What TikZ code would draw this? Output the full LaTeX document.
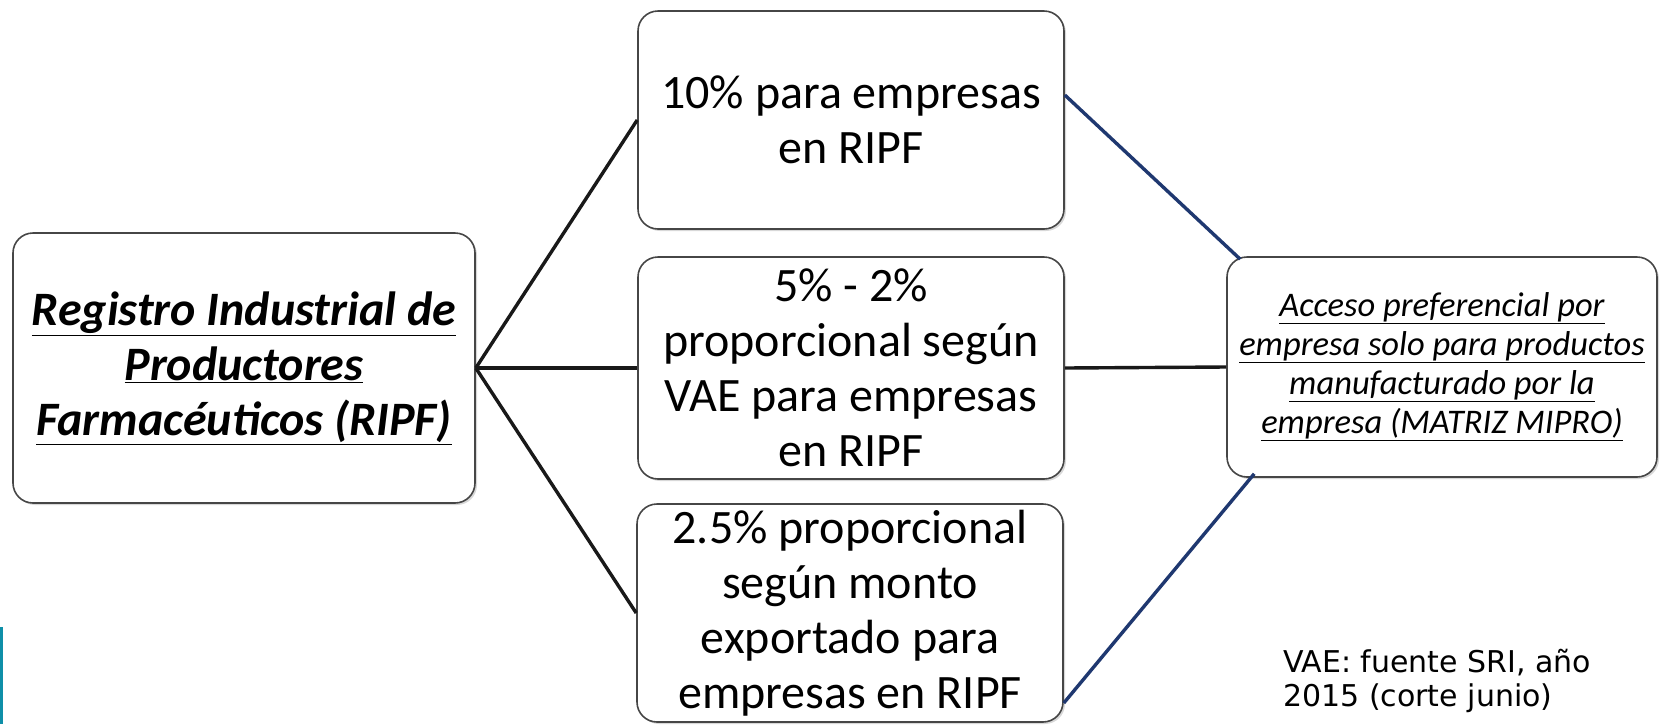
\documentclass[tikz,border=0pt]{standalone}
\usepackage{fontspec}
\setmainfont{Carlito}
\newfontfamily\notefont{DejaVu Sans}
\usetikzlibrary{shadows}
\definecolor{boxgray}{RGB}{70,70,70}
\definecolor{linkblack}{RGB}{25,25,25}
\definecolor{linkblue}{RGB}{31,56,112}
\definecolor{stripteal}{RGB}{14,143,168}

\begin{document}
\begin{tikzpicture}[x=1pt,y=1pt,yscale=-1,
  box/.style={draw=boxgray, line width=1.6pt, rounded corners=20pt, fill=white, align=center, inner sep=0pt,
    drop shadow={shadow xshift=2pt, shadow yshift=-2pt, opacity=0.3}},
  ratebox/.style={box, minimum width=426pt, minimum height=218pt, font=\fontsize{48}{55}\selectfont},
  link/.style={line width=3.4pt, draw=linkblack},
  bluelink/.style={line width=3.4pt, draw=linkblue}]
%uncomment if require: \path (0,724); %set diagram left start at 0, and has height of 724
\useasboundingbox[fill=white] (0,0) rectangle (1660,724);

%Shape: Rectangle (left strip)
\fill [stripteal] (0,627) rectangle (3,724);

% Text Node
\node [box, minimum width=462pt, minimum height=270pt, font=\bfseries\itshape\fontsize{48}{55}\selectfont] (ripf) at (244,368)
  {\underline{Registro Industrial de}\\\underline{Productores}\\\underline{Farmacéuticos (RIPF)}};
% Text Node
\node [ratebox] (diez) at (851,120) {10\% para empresas\\en RIPF};
% Text Node
\node [ratebox, minimum height=222pt] (cinco) at (851,368) {5\% - 2\%\\proporcional según\\VAE para empresas\\en RIPF};
% Text Node
\node [ratebox] (dos) at (850,613) {2.5\% proporcional\\según monto\\exportado para\\empresas en RIPF};
% Text Node
\node [box, minimum width=430pt, minimum height=220pt, font=\itshape\fontsize{34.5}{39}\selectfont] (acceso) at (1442,367)
  {\underline{Acceso preferencial por}\\\underline{empresa solo para productos}\\\underline{manufacturado por la}\\\underline{empresa (MATRIZ MIPRO)}};
% Text Node
\node [anchor=north west, inner sep=0pt, align=left, font=\notefont\fontsize{30}{34}\selectfont] (nota) at (1283,649)
  {VAE: fuente SRI, año\\2015 (corte junio)};

%Straight Lines
\draw [link] (ripf.east) -- (diez.west);
\draw [link] (ripf.east) -- (cinco.west);
\draw [link] (ripf.east) -- (dos.west);

%Straight Lines
\draw [bluelink] ([yshift=-25pt]diez.east) -- ([xshift=14pt,yshift=3pt]acceso.north west);
\draw [link] (cinco.east) -- (acceso.west);
\draw [bluelink] ([yshift=90pt]dos.east) -- ([xshift=28pt,yshift=-4pt]acceso.south west);

\end{tikzpicture}
\end{document}
